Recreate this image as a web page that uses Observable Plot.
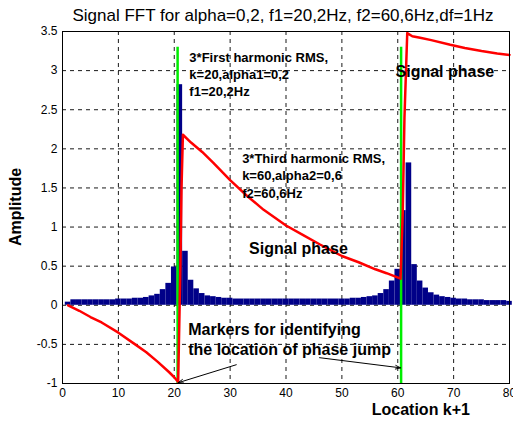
<!DOCTYPE html>
<html><head><meta charset="utf-8">
<script src="https://cdn.jsdelivr.net/npm/d3@7"></script>
<script src="https://cdn.jsdelivr.net/npm/@observablehq/plot@0.6"></script>
<style>
body{margin:0;background:#fff;}
#chart svg{font-family:"Liberation Sans",Arial,sans-serif;background:#fff;}
</style></head><body><div id="chart"></div>
<script>
// FFT bar amplitudes at Location k+1 = 1..80
const locations = d3.range(1, 81);
const amplitude = [
  0.04,0.07,0.07,0.07,0.07,0.07,0.07,0.07,0.07,0.08,
  0.08,0.08,0.09,0.09,0.10,0.12,0.14,0.20,0.28,0.49,
  2.82,0.69,0.32,0.21,0.15,0.12,0.11,0.10,0.09,0.09,
  0.08,0.08,0.08,0.08,0.08,0.08,0.08,0.08,0.08,0.08,
  0.08,0.08,0.08,0.08,0.08,0.08,0.08,0.08,0.08,0.08,
  0.08,0.09,0.09,0.10,0.11,0.12,0.15,0.20,0.31,0.46,
  1.21,1.82,0.52,0.31,0.22,0.16,0.13,0.11,0.10,0.09,
  0.08,0.08,0.07,0.07,0.07,0.06,0.06,0.06,0.06,0.05
];
// Signal phase curve
const phaseX = [1,3,5,7,10,13,15,17,19,20,20.7,21.1,21.3,21.55,23,25,27,30,33,36,40,43,46,50,53,56,58,60.5,60.9,61.2,61.7,62.6,64,66,69.4,72,75,77.8,80];
const phaseY = [0,-0.07,-0.15,-0.22,-0.35,-0.5,-0.6,-0.72,-0.85,-0.92,-0.98,0.5,1.5,2.18,2.08,1.96,1.82,1.6,1.4,1.22,1.02,0.9,0.78,0.63,0.55,0.46,0.41,0.34,1.2,2.4,3.48,3.44,3.42,3.39,3.33,3.29,3.25,3.22,3.2];
// Green marker lines
const markerX = [20.6, 60.6];
const markerBottom = [-1, -1];
const markerTop = [3.3, 3.3];
// Arrows
const arrowX1 = [31.1, 46.0];
const arrowY1 = [-0.76, -0.67];
const arrowX2 = [20.7, 60.5];
const arrowY2 = [-0.99, -0.80];
// Annotations
const annoText = [
  "3*First harmonic RMS,\nk=20,alpha1=0,2\nf1=20,2Hz",
  "3*Third harmonic RMS,\nk=60,alpha2=0,6\nf2=60,6Hz",
  "Signal phase",
  "Signal phase",
  "Markers for identifying\nthe location of phase jump"
];
const annoX = [22.7, 32.15, 59.6, 33.4, 22.5];
const annoY = [2.96, 1.67, 3.0, 0.74, -0.43];
const annoSize = [13, 13, 16, 16, 16];
const annoLH = [1.31, 1.35, 1.2, 1.2, 1.2];
// Ticks
const xTicks = [0,10,20,30,40,50,60,70,80];
const yTicks = [-1,-0.5,0,0.5,1,1.5,2,2.5,3,3.5];
const titleText = "Signal FFT for alpha=0,2, f1=20,2Hz, f2=60,6Hz,df=1Hz";
const xLabel = "Location k+1";
const yLabel = "Amplitude";

const bars = locations.map((l, i) => ({loc: l, amp: amplitude[i]}));
const phase = phaseX.map((x, i) => ({x, y: phaseY[i]}));
const markers = markerX.map((x, i) => ({x, y1: markerBottom[i], y2: markerTop[i]}));
const arrows = arrowX1.map((x, i) => ({x1: x, y1: arrowY1[i], x2: arrowX2[i], y2: arrowY2[i]}));
const annos = annoText.map((t, i) => ({t, x: annoX[i], y: annoY[i], s: annoSize[i], lh: annoLH[i]}));

const W = 513, H = 425;
const plot = Plot.plot({
  width: W, height: H,
  marginLeft: 62, marginRight: 4, marginTop: 31, marginBottom: 42,
  style: {fontSize: "12px", fontFamily: "'Liberation Sans', Arial, sans-serif", color: "#000"},
  x: {domain: [0, 80]},
  y: {domain: [-1, 3.5]},
  marks: [
    Plot.gridX(xTicks, {stroke: "#000", strokeOpacity: 0.9, strokeDasharray: "4,4"}),
    Plot.gridY(yTicks, {stroke: "#000", strokeOpacity: 0.9, strokeDasharray: "4,4"}),
    Plot.rectY(bars, {x1: d => d.loc - 0.5, x2: d => d.loc + 0.5, y: "amp", fill: "#000088", inset: 0}),
    Plot.ruleX(markers, {x: "x", y1: "y1", y2: "y2", stroke: "#00ee00", strokeWidth: 2.5}),
    Plot.line(phase, {x: "x", y: "y", stroke: "#ff0000", strokeWidth: 2.5}),
    Plot.arrow(arrows, {x1: "x1", y1: "y1", x2: "x2", y2: "y2", stroke: "#000", strokeWidth: 1, headLength: 8, headAngle: 40}),
    ...annos.map(a => Plot.text([a], {x: "x", y: "y", text: "t", textAnchor: "start", lineAnchor: "middle",
      fontSize: a.s, fontWeight: "bold", lineHeight: a.lh, fill: "#000"})),
    Plot.axisX(xTicks, {anchor: "bottom", tickSize: 0, tickPadding: 5, tickFormat: d => String(d), label: null, fontSize: 12}),
    Plot.axisY(yTicks, {anchor: "left", tickSize: 0, tickPadding: 5, tickFormat: d => String(d), label: null, fontSize: 12}),
    Plot.frame({stroke: "#000", strokeWidth: 1})
  ]
});
document.getElementById("chart").appendChild(plot);
const svg = d3.select(plot);
svg.append("text").attr("x", 283).attr("y", 21).attr("text-anchor", "middle")
  .attr("font-size", 17).attr("fill", "#000").text(titleText);
svg.append("text").attr("x", 470).attr("y", 415).attr("text-anchor", "end")
  .attr("font-size", 16).attr("font-weight", "bold").attr("fill", "#000").text(xLabel);
svg.append("text").attr("transform", "translate(21,207) rotate(-90)").attr("text-anchor", "middle")
  .attr("font-size", 16).attr("font-weight", "bold").attr("fill", "#000").text(yLabel);
</script></body></html>
